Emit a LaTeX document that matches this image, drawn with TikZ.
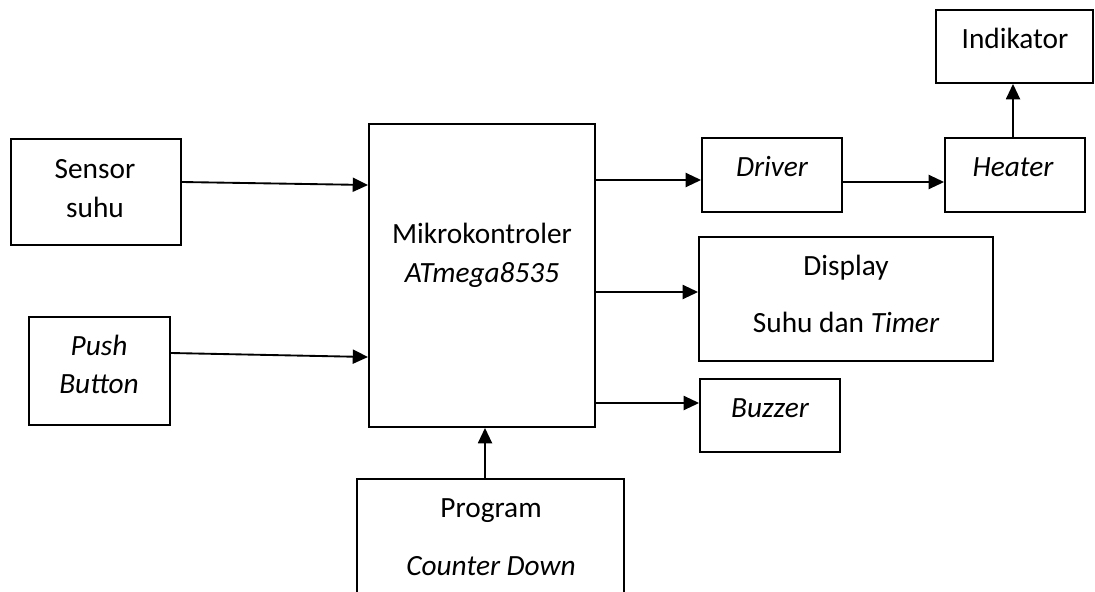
\documentclass[tikz,border=0pt]{standalone}
\usepackage{fontspec}
\setmainfont{Carlito}
\usetikzlibrary{arrows.meta,fit}

\tikzset{
  box/.style={draw, line width=1.4pt, inner sep=0pt, fill=none},
  lbl/.style={anchor=base, inner sep=0pt, font=\fontsize{22}{26}\selectfont},
  arr/.style={line width=1.4pt, -{Triangle[length=11.5pt,width=10.5pt]}},
}

\begin{document}
\begin{tikzpicture}[x=0.75pt, y=-0.75pt]
  \useasboundingbox (0,0) rectangle (1095,592);
  \clip (0,0) rectangle (1095,592);

  % blocks
  \node[box, fit={(11,139) (181,245)}]   (sensor)  {};
  \node[box, fit={(29,317) (170,425)}]   (push)    {};
  \node[box, fit={(369,124) (595,427)}]  (mikro)   {};
  \node[box, fit={(702,138) (842,212)}]  (driver)  {};
  \node[box, fit={(945,138) (1085,212)}] (heater)  {};
  \node[box, fit={(936,10) (1093,83)}]   (indik)   {};
  \node[box, fit={(699,237) (993,361)}]  (display) {};
  \node[box, fit={(700,379) (840,452)}]  (buzzer)  {};
  \node[box, fit={(357,479) (624,610)}]  (program) {};

  % labels
  \node[lbl] (tSensor)  at (95,178)   {Sensor};
  \node[lbl] (tSuhu)    at (95,217)   {suhu};
  \node[lbl] (tPush)    at (99,355)   {\itshape Push};
  \node[lbl] (tButton)  at (99,393)   {\itshape Button};
  \node[lbl] (tMikro)   at (482,243)  {Mikrokontroler};
  \node[lbl] (tAtmega)  at (482,282)  {\itshape ATmega8535};
  \node[lbl] (tDriver)  at (772,176)  {\itshape Driver};
  \node[lbl] (tHeater)  at (1013,176) {\itshape Heater};
  \node[lbl] (tIndik)   at (1015,49)  {Indikator};
  \node[lbl] (tDisplay) at (846,275)  {Display};
  \node[lbl] (tTimer)   at (846,332)  {Suhu dan \itshape Timer};
  \node[lbl] (tBuzzer)  at (770,417)  {\itshape Buzzer};
  \node[lbl] (tProgram) at (491,517)  {Program};
  \node[lbl] (tCounter) at (491,575)  {\itshape Counter Down};

  % connections
  \draw[arr] (sensor.east |- 0,182) -- (mikro.west |- 0,185);
  \draw[arr] (push.east |- 0,353)   -- (mikro.west |- 0,357);
  \draw[arr] (mikro.east |- 0,180)  -- (driver.west |- 0,180);
  \draw[arr] (driver.east |- 0,182) -- (heater.west |- 0,182);
  \draw[arr] (heater.north -| 1013,0) -- (indik.south -| 1013,0);
  \draw[arr] (mikro.east |- 0,292)  -- (display.west |- 0,292);
  \draw[arr] (mikro.east |- 0,403)  -- (buzzer.west |- 0,403);
  \draw[arr] (program.north -| 485,0) -- (mikro.south -| 485,0);
\end{tikzpicture}
\end{document}
